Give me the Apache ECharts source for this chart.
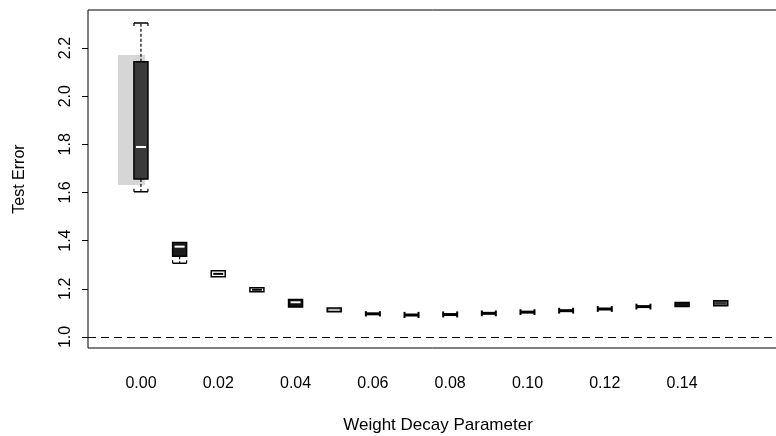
<!DOCTYPE html>
<html>
<head>
<meta charset="utf-8">
<script src="https://cdn.jsdelivr.net/npm/echarts@6/dist/echarts.min.js"></script>
<style>
  html, body { margin: 0; background: #fff; overflow: hidden; }
  #chart { width: 776px; height: 436px; }
</style>
</head>
<body>
<div id="chart"></div>
<script>
// weight decay values (one box each)
const decay = [0.00, 0.01, 0.02, 0.03, 0.04, 0.05, 0.06, 0.07, 0.08, 0.09, 0.10, 0.11, 0.12, 0.13, 0.14, 0.15]
const lowWhisker  = [1.603, 1.306, 1.248, 1.186, 1.122, 1.103, 1.085, 1.079, 1.081, 1.086, 1.091, 1.097, 1.104, 1.114, 1.126, 1.129]
const lowerQuart  = [1.656, 1.335, 1.250, 1.188, 1.124, 1.105, 1.085, 1.079, 1.081, 1.086, 1.091, 1.097, 1.104, 1.114, 1.126, 1.130]
const medians     = [1.789, 1.375, 1.262, 1.196, 1.144, 1.112, 1.096, 1.091, 1.093, 1.098, 1.103, 1.109, 1.116, 1.126, 1.134, 1.140]
const upperQuart  = [2.143, 1.392, 1.275, 1.204, 1.155, 1.120, 1.107, 1.104, 1.106, 1.110, 1.115, 1.121, 1.128, 1.138, 1.143, 1.150]
const highWhisker = [2.304, 1.395, 1.277, 1.206, 1.157, 1.122, 1.107, 1.104, 1.106, 1.110, 1.115, 1.121, 1.128, 1.138, 1.143, 1.151]
// light band drawn behind the first box
const shadeRange = [[0.00, 1.631, 2.171]]
const xTicks = [0.00, 0.02, 0.04, 0.06, 0.08, 0.10, 0.12, 0.14]
const yTicks = [1.0, 1.2, 1.4, 1.6, 1.8, 2.0, 2.2]
const refLevel = 1.0

// look of each box
const boxLook = [
    { kind: 'box', fill: '#3a3a3a', med: '#fff' },
    { kind: 'box', fill: '#1c1c1c', med: '#fff' },
    { kind: 'box', fill: '#fff', med: '#000' },
    { kind: 'box', fill: '#fff', med: '#000' },
    { kind: 'box', fill: '#111', med: '#fff' },
    { kind: 'box', fill: '#888', med: '#bbb' },
    { kind: 'h' }, { kind: 'h' }, { kind: 'h' }, { kind: 'h' },
    { kind: 'h' }, { kind: 'h' }, { kind: 'h' }, { kind: 'h' },
    { kind: 'box', fill: '#111', med: '#111' },
    { kind: 'box', fill: '#555', med: '#333' }
]

const font = 'Liberation Sans'
const chart = echarts.init(document.getElementById('chart'))

const boxData = decay.map((d, i) => [d, lowWhisker[i], lowerQuart[i], medians[i], upperQuart[i], highWhisker[i]])

function seg(x1, y1, x2, y2, w, dash, color) {
    return {
        type: 'line',
        shape: { x1, y1, x2, y2 },
        style: { stroke: color || '#000', lineWidth: w, lineDash: dash || null }
    }
}

function renderBox(params, api) {
    const i = params.dataIndex
    const x = api.value(0)
    const cx = api.coord([x, 1])[0]
    const py = k => api.coord([x, api.value(k)])[1]
    const yLo = py(1), yQ1 = py(2), yMed = py(3), yQ3 = py(4), yHi = py(5)
    const half = 7
    const look = boxLook[i]
    const kids = []
    if (look.kind === 'h') {
        kids.push(seg(cx - half, yQ1, cx - half, yQ3, 2))
        kids.push(seg(cx + half, yQ1, cx + half, yQ3, 2))
        kids.push(seg(cx - half, yMed, cx + half, yMed, 3))
    } else {
        // whiskers (dashed) with bracket caps
        if (yLo - yQ1 > 1) {
            kids.push(seg(cx, yQ1, cx, yLo, 1.2, [3, 2]))
            kids.push(seg(cx - half, yLo, cx + half, yLo, 1.5))
            kids.push(seg(cx - half, yLo, cx - half, yLo - 3, 1.2))
            kids.push(seg(cx + half, yLo, cx + half, yLo - 3, 1.2))
        }
        if (yQ3 - yHi > 1) {
            kids.push(seg(cx, yQ3, cx, yHi, 1.2, [3, 2]))
            kids.push(seg(cx - half, yHi, cx + half, yHi, 1.5))
            kids.push(seg(cx - half, yHi, cx - half, yHi + 3, 1.2))
            kids.push(seg(cx + half, yHi, cx + half, yHi + 3, 1.2))
        }
        kids.push({
            type: 'rect',
            shape: { x: cx - half, y: yQ3, width: half * 2, height: Math.max(yQ1 - yQ3, 2) },
            style: { fill: look.fill, stroke: '#000', lineWidth: 1.5 }
        })
        kids.push(seg(cx - half + 2, yMed, cx + half - 2, yMed, 2, null, look.med))
    }
    return { type: 'group', children: kids }
}

function renderShade(params, api) {
    const x = api.value(0)
    const lo = api.coord([x, api.value(1)])
    const hi = api.coord([x, api.value(2)])
    return {
        type: 'rect',
        shape: { x: lo[0] - 23, y: hi[1], width: 27, height: lo[1] - hi[1] },
        style: { fill: '#d6d6d6' }
    }
}

const options = {
    animation: false,
    backgroundColor: '#fff',
    grid: {
        left: 88, top: 10, width: 700, height: 338,
        outerBoundsMode: 'none',
        show: true, borderColor: '#000', borderWidth: 1
    },
    xAxis: {
        type: 'value',
        min: -0.0137,
        max: 0.1674,
        axisLine: { show: false, onZero: false },
        axisTick: { show: false },
        splitLine: { show: false },
        axisLabel: {
            customValues: xTicks,
            formatter: v => v.toFixed(2),
            margin: 28,
            fontSize: 16,
            fontFamily: font,
            color: '#000'
        },
        name: 'Weight Decay Parameter',
        nameLocation: 'middle',
        nameGap: 69,
        nameTextStyle: { fontSize: 17, fontFamily: font, color: '#000' }
    },
    yAxis: {
        type: 'value',
        min: 0.954,
        max: 2.358,
        axisLine: { show: false, onZero: false },
        splitLine: { show: false },
        axisTick: {
            show: true,
            customValues: yTicks,
            length: 6,
            lineStyle: { color: '#000', width: 1 }
        },
        axisLabel: {
            customValues: yTicks,
            rotate: 90,
            formatter: v => v.toFixed(1),
            margin: 14,
            fontSize: 16,
            fontFamily: font,
            color: '#000'
        },
        name: 'Test Error',
        nameLocation: 'middle',
        nameRotate: 90,
        nameGap: 60,
        nameTextStyle: { fontSize: 16, fontFamily: font, color: '#000' }
    },
    series: [
        {
            type: 'custom',
            name: 'shade',
            renderItem: renderShade,
            encode: { x: 0, y: [1, 2] },
            data: shadeRange,
            silent: true
        },
        {
            type: 'custom',
            name: 'test error',
            renderItem: renderBox,
            encode: { x: 0, y: [1, 2, 3, 4, 5] },
            data: boxData,
            markLine: {
                silent: true,
                symbol: 'none',
                label: { show: false },
                lineStyle: { color: '#000', type: [8, 5], width: 1 },
                data: [{ yAxis: refLevel }]
            }
        }
    ]
}
chart.setOption(options)
</script>
</body>
</html>
